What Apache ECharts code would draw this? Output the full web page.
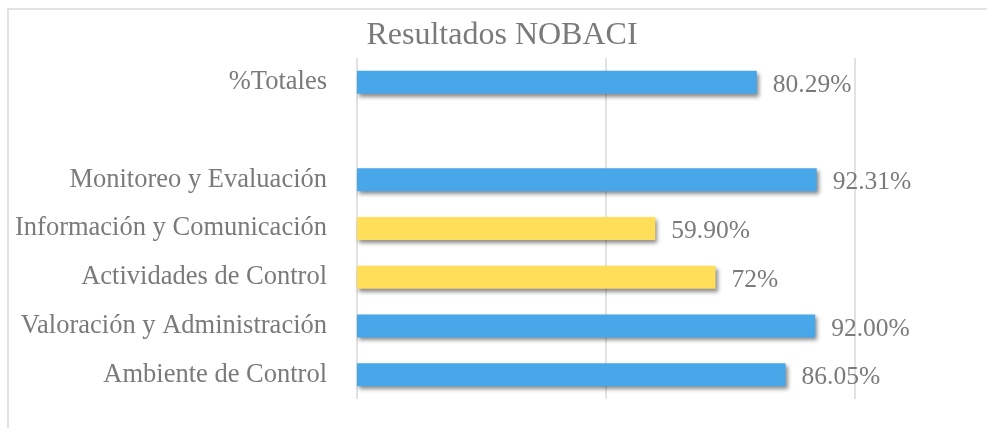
<!DOCTYPE html>
<html>
<head>
<meta charset="utf-8">
<script src="https://cdn.jsdelivr.net/npm/echarts@6/dist/echarts.min.js"></script>
<style>html,body{margin:0;padding:0;background:#fff;}#c{width:987px;height:428px;}</style>
</head>
<body>
<div id="c"></div>
<script>
var categories = ['Ambiente de Control', 'Valoración y Administración', 'Actividades de Control', 'Información y Comunicación', 'Monitoreo y Evaluación', '', '%Totales'];
var values = [86.05, 92.00, 72, 59.90, 92.31, null, 80.29];
var labels = ['86.05%', '92.00%', '72%', '59.90%', '92.31%', '', '80.29%'];
var barColors = ['#47A7E9', '#47A7E9', '#FFDE59', '#FFDE59', '#47A7E9', '#47A7E9', '#47A7E9'];
var xTicks = [0, 50, 100];

var chart = echarts.init(document.getElementById('c'));
var FONT = '"Liberation Serif", "Times New Roman", serif';
chart.setOption({
  animation: false,
  backgroundColor: '#fff',
  title: {
    text: 'Resultados NOBACI',
    left: 497, top: 15, textAlign: 'center',
    textStyle: { fontFamily: FONT, fontSize: 32, fontWeight: 'normal', color: '#7a7a7a' }
  },
  graphic: [{
    type: 'rect', shape: { x: 8, y: 9, width: 1200, height: 1000 },
    style: { fill: 'none', stroke: '#d9d9d9', lineWidth: 1.5 }, silent: true
  }],
  grid: { left: 357, right: 132, top: 58, bottom: 29, containLabel: false },
  xAxis: {
    type: 'value', min: xTicks[0], max: xTicks[xTicks.length - 1], interval: 50,
    axisLabel: { show: false }, axisLine: { show: false }, axisTick: { show: false },
    splitLine: { lineStyle: { color: '#d9d9d9', width: 1.5 } }
  },
  yAxis: {
    type: 'category', data: categories,
    axisLine: { show: false }, axisTick: { show: false },
    axisLabel: { fontFamily: FONT, fontSize: 26.5, color: '#7a7a7a', margin: 30, padding: [3, 0, 0, 0] }
  },
  series: [{
    type: 'bar',
    data: values.map(function (v, i) { return { value: v, itemStyle: { color: barColors[i] } }; }),
    barWidth: 23,
    itemStyle: { shadowColor: 'rgba(0,0,0,0.45)', shadowBlur: 4, shadowOffsetX: 2, shadowOffsetY: 3 },
    label: {
      show: true, position: 'right', distance: 16, offset: [0, 3],
      fontFamily: FONT, fontSize: 25.5, color: '#7a7a7a',
      formatter: function (p) { return labels[p.dataIndex]; }
    }
  }]
});
</script>
</body>
</html>
